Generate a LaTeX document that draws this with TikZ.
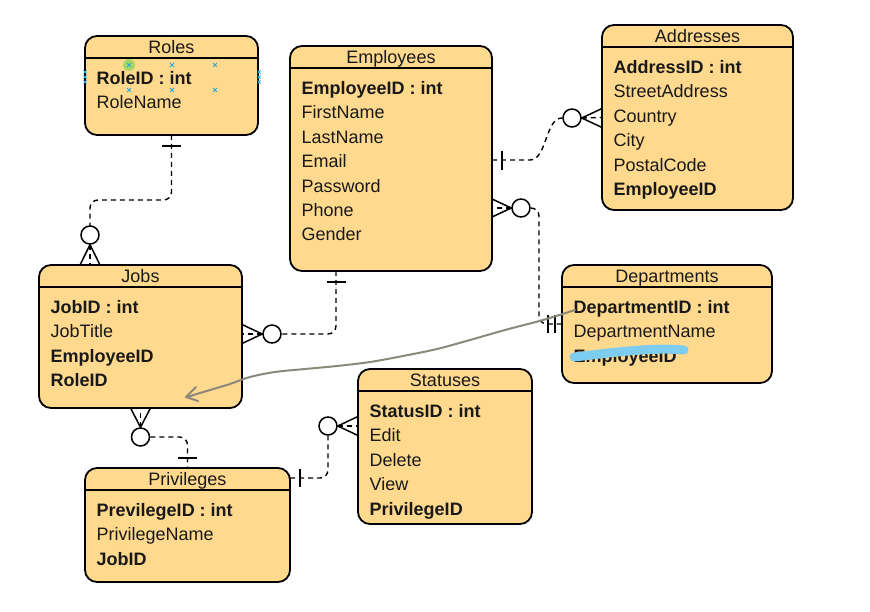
\documentclass[tikz,border=0pt]{standalone}
\usepackage{fontspec}
\setmainfont{Liberation Sans}
\usetikzlibrary{calc}
\definecolor{entfill}{RGB}{255,217,142}
\definecolor{txt}{RGB}{25,25,25}
\definecolor{scrib}{RGB}{125,205,240}
\definecolor{pencol}{RGB}{140,136,122}
\definecolor{selblue}{RGB}{40,170,220}
\definecolor{selgreen}{RGB}{150,215,90}
\newcommand{\erent}[6]{%
  \node[entbox, minimum width=#4pt, minimum height=#5pt] (#1) at (#2,#3) {};
  \draw[hdr] ([yshift=-22pt]#1.north west) -- ([yshift=-22pt]#1.north east);
  \node[ttl] (#1-t) at ([yshift=-17.5pt]#1.north) {#6};}
\newcommand{\errow}[4]{%
  \node[#3] (#1-#2) at ([xshift=11.5pt,yshift={-48.5pt-24.4pt*(#2-1)}]#1.north west) {#4};}
\begin{document}
\begin{tikzpicture}[x=1pt,y=-1pt,
  entbox/.style={draw=black, line width=1.8pt, fill=entfill, rounded corners=12pt, inner sep=0pt, outer sep=0pt, anchor=north west},
  hdr/.style={draw=black, line width=1.6pt},
  ttl/.style={anchor=base, inner sep=0pt, text=txt, font=\fontsize{18}{22}\selectfont},
  fld/.style={anchor=base west, inner sep=0pt, text=txt, font=\fontsize{18}{22}\selectfont},
  bfld/.style={fld, font=\fontsize{18}{22}\selectfont\bfseries},
  rel/.style={draw=black, line width=1.4pt, dash pattern=on 5pt off 4pt},
  erbar/.style={draw=black, line width=1.5pt},
  erfoot/.style={draw=black, line width=1.5pt, line join=miter},
  ercirc/.style={draw=black, line width=1.5pt, fill=white, circle, minimum size=18pt, inner sep=0pt},
  pen/.style={draw=pencol, line width=2pt, line cap=round, line join=round},
  selx/.style={draw=selblue, line width=0.8pt}]
\fill[white] (0,0) rectangle (870,612);
\useasboundingbox (0,0) rectangle (870,612);

% Entities
\erent{roles}{85}{36}{173}{99}{Roles}
\errow{roles}{1}{bfld}{RoleID : int}
\errow{roles}{2}{fld}{RoleName}

\erent{emp}{290}{46}{202}{225}{Employees}
\errow{emp}{1}{bfld}{EmployeeID : int}
\errow{emp}{2}{fld}{FirstName}
\errow{emp}{3}{fld}{LastName}
\errow{emp}{4}{fld}{Email}
\errow{emp}{5}{fld}{Password}
\errow{emp}{6}{fld}{Phone}
\errow{emp}{7}{fld}{Gender}

\erent{addr}{602}{25}{191}{185}{Addresses}
\errow{addr}{1}{bfld}{AddressID : int}
\errow{addr}{2}{fld}{StreetAddress}
\errow{addr}{3}{fld}{Country}
\errow{addr}{4}{fld}{City}
\errow{addr}{5}{fld}{PostalCode}
\errow{addr}{6}{bfld}{EmployeeID}

\erent{jobs}{39}{265}{203}{143}{Jobs}
\errow{jobs}{1}{bfld}{JobID : int}
\errow{jobs}{2}{fld}{JobTitle}
\errow{jobs}{3}{bfld}{EmployeeID}
\errow{jobs}{4}{bfld}{RoleID}

\erent{dept}{562}{265}{210}{118}{Departments}
\errow{dept}{1}{bfld}{DepartmentID : int}
\errow{dept}{2}{fld}{DepartmentName}
\errow{dept}{3}{bfld}{EmployeeID}

\erent{stat}{358}{369}{174}{155}{Statuses}
\errow{stat}{1}{bfld}{StatusID : int}
\errow{stat}{2}{fld}{Edit}
\errow{stat}{3}{fld}{Delete}
\errow{stat}{4}{fld}{View}
\errow{stat}{5}{bfld}{PrivilegeID}

\erent{priv}{85}{468}{205}{114}{Privileges}
\errow{priv}{1}{bfld}{PrevilegeID : int}
\errow{priv}{2}{fld}{PrivilegeName}
\errow{priv}{3}{bfld}{JobID}

% Roles - Jobs
\coordinate (j1) at (90,265);
\draw[rel, rounded corners=8pt] (roles.south) -- (171.5,200) -- (90,200) -- (90,226);
\node[ercirc] (c1) at (90,235) {};
\draw[erbar] (162,146) -- (181,146);
\draw[erfoot] (80,265) -- (c1.south) -- (100,265);
\draw[rel] (c1.south) -- (j1);

% Employees - Jobs
\coordinate (e2) at (336,271);
\coordinate (j2) at (242,334);
\node[ercirc] (c2) at (272,334) {};
\draw[rel, rounded corners=8pt] (e2) -- (336,334) -- (c2.east);
\draw[erbar] (326.5,282) -- (345.5,282);
\draw[erfoot] (242,324.5) -- (c2.west) -- (242,343.5);
\draw[rel] (c2.west) -- (j2);

% Employees - Addresses
\coordinate (e3) at (492,160);
\node[ercirc] (c3) at (572,118) {};
\draw[rel] (e3) -- (530,160) .. controls (547,160) and (545,118) .. (c3.west);
\draw[erbar] (502,151) -- (502,170);
\draw[erfoot] (602,108.5) -- (c3.east) -- (602,127.5);
\draw[rel] (c3.east) -- (addr.west);

% Employees - Departments
\coordinate (e4) at (492,208);
\node[ercirc] (c4) at (521,208) {};
\draw[erfoot] (492,199) -- (c4.west) -- (492,217);
\draw[rel] (c4.west) -- (e4);
\draw[rel, rounded corners=8pt] (c4.east) -- (539,208) -- (539,324) -- (dept.west);
\draw[erbar] (548,315) -- (548,333);
\draw[erbar] (555,315) -- (555,333);

% Jobs - Privileges
\node[ercirc] (c5) at (140.5,437) {};
\draw[erfoot] (130.5,408) -- (c5.north) -- (150.5,408);
\draw[rel] (c5.north) -- (jobs.south);
\draw[rel, rounded corners=8pt] (c5.east) -- (187.5,437) -- (priv.north);
\draw[erbar] (178,458) -- (197,458);

% Privileges - Statuses
\coordinate (p6) at (290,478);
\coordinate (s6) at (358,426);
\node[ercirc] (c6) at (328,426) {};
\draw[rel, rounded corners=8pt] (p6) -- (328,478) -- (c6.south);
\draw[erbar] (300,469) -- (300,487);
\draw[erfoot] (358,416.5) -- (c6.east) -- (358,435.5);
\draw[rel] (c6.east) -- (s6);

% freehand pen arrow
\draw[pen] plot[smooth, tension=0.55] coordinates {(575,310) (543,320) (505,330) (470,340) (437,349) (403,356) (370,362) (337,366) (305,369) (275,372) (250,377) (230,384) (210,390) (187,397)};
\draw[pen] (196,387) -- (186,397) -- (198,401);

% blue scribble
\draw[draw=scrib, line width=9pt, line cap=round] (574,357) .. controls (610,353) and (650,347) .. (684,350);

% selection markers on Roles
\fill[selgreen, opacity=0.85] (129,65) circle (6);
\foreach \p in {(129,65),(172,65),(215,65),(129,90),(172,90),(215,90)}
  \draw[selx] \p +(-2,-2) -- +(2,2) \p +(-2,2) -- +(2,-2);
\foreach \p in {(85,72),(85,77),(85,82),(259,72),(259,77),(259,82)}
  \draw[selx] \p +(-1.5,-1.5) -- +(1.5,1.5) \p +(-1.5,1.5) -- +(1.5,-1.5);
\end{tikzpicture}
\end{document}
